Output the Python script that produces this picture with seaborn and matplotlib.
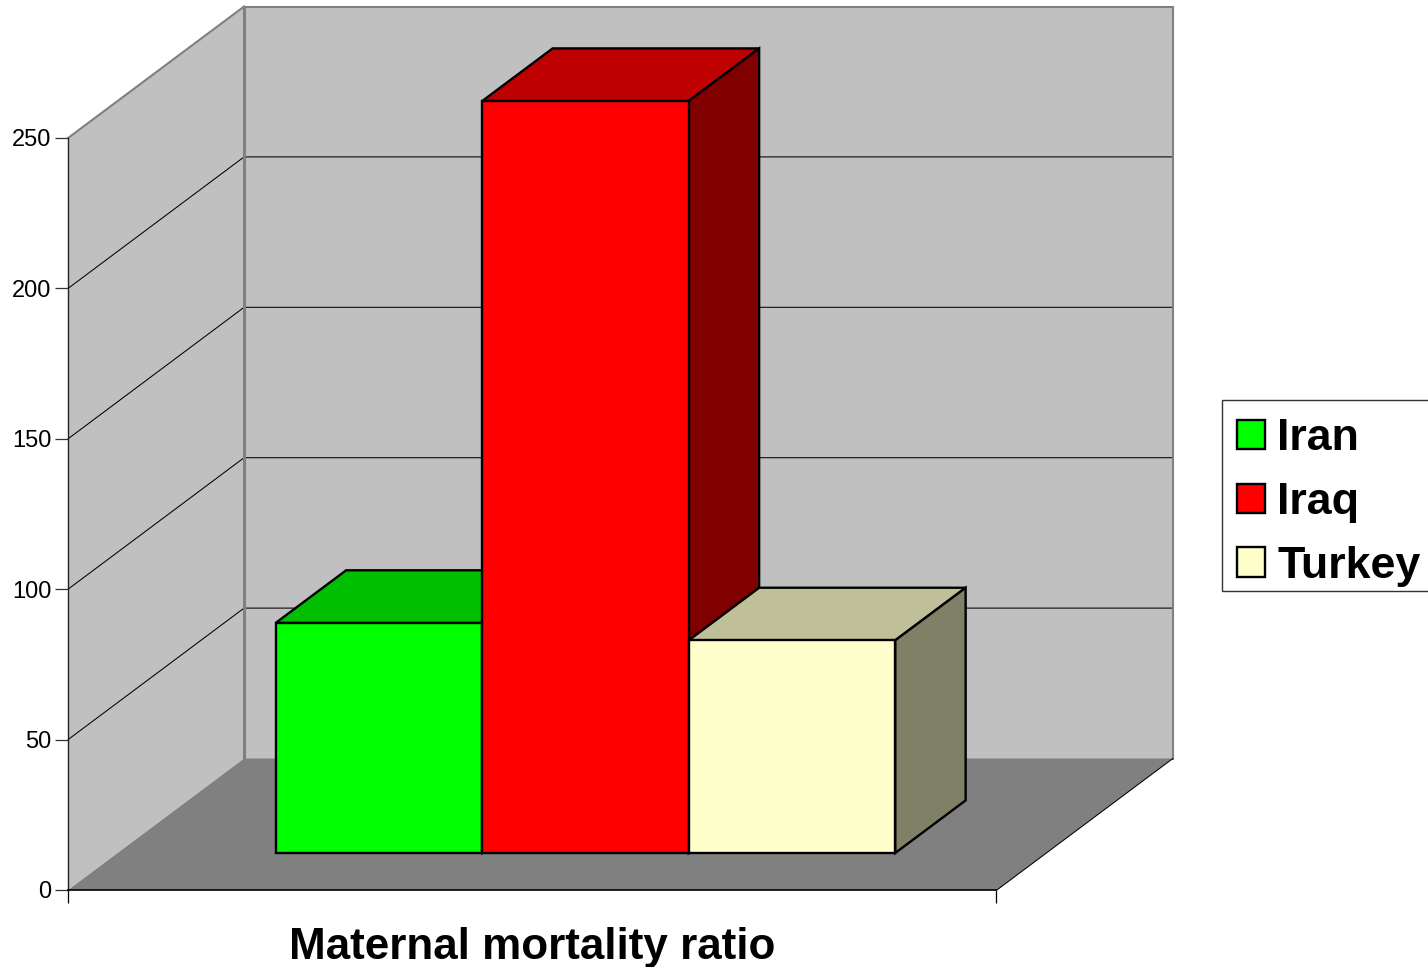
import matplotlib
matplotlib.use("Agg")
import matplotlib.pyplot as plt
from matplotlib.colors import to_rgb
from matplotlib.patches import Polygon, Rectangle
import seaborn as sns

categories = ["Iran", "Iraq", "Turkey"]
values = [76.5, 250, 70.7]
bar_colors = ["#00FF00", "#FF0000", "#FFFFCC"]
y_ticks = [0, 50, 100, 150, 200, 250]
x_label = "Maternal mortality ratio"

W, H = 1428, 967
sns.set_theme(style="white")
plt.rcParams["font.family"] = ["Liberation Sans", "DejaVu Sans"]

fig = plt.figure(figsize=(W / 100, H / 100), dpi=100, facecolor="white")
ax = fig.add_axes([0, 0, 1, 1])

sns.barplot(x=categories, y=values, hue=categories, palette=bar_colors, dodge=False,
            width=1.0, saturation=1, edgecolor="black", linewidth=1.7, legend=False, ax=ax)
bars = list(ax.patches)

# full-figure axes: one category = 206.5 px, one value unit = 3.008 px, baseline at pixel 853
PX_X, PX_Y = 206.5, 3.008
ax.set_xlim(-379 / PX_X, (W - 379) / PX_X)
ax.set_ylim(-(H - 853) / PX_Y, 853 / PX_Y)
ax.set_axis_off()

# oblique projection; d = 0 front of floor, d = 1 back wall
DX, DY = 176 / PX_X, 131.5 / PX_Y
D0 = 37 / 131.5
BAR_DEPTH = 0.4
XL, XR = (117.6 - 379) / PX_X, (1046.4 - 379) / PX_X
TOP = y_ticks[-1]


def proj(x, v, d):
    return x + (d - D0) * DX, v + (d - D0) * DY


def face(points, fc, ec, lw, z):
    ax.add_patch(Polygon(points, closed=True, facecolor=fc, edgecolor=ec, linewidth=lw, zorder=z))


WALL, FLOOR, EDGE = "#C0C0C0", "#808080", "#808080"
face([proj(XL, 0, 1), proj(XR, 0, 1), proj(XR, TOP, 1), proj(XL, TOP, 1)], WALL, "none", 0, 0.2)
face([proj(XL, 0, 0), proj(XL, 0, 1), proj(XL, TOP, 1), proj(XL, TOP, 0)], WALL, "none", 0, 0.2)
face([proj(XL, 0, 0), proj(XR, 0, 0), proj(XR, 0, 1), proj(XL, 0, 1)], FLOOR, "none", 0, 0.3)

for v in y_ticks[1:-1]:
    p0, p1, p2 = proj(XL, v, 0), proj(XL, v, 1), proj(XR, v, 1)
    ax.plot([p0[0], p1[0], p2[0]], [p0[1], p1[1], p2[1]], color="black", lw=0.75, zorder=0.5)

for (a, b, lw) in [((XL, TOP, 0), (XL, TOP, 1), 1.5), ((XL, TOP, 1), (XR, TOP, 1), 1.5),
                   ((XL, TOP, 1), (XL, 0, 1), 2.2), ((XR, TOP, 1), (XR, 0, 1), 1.5)]:
    pa, pb = proj(*a), proj(*b)
    ax.plot([pa[0], pb[0]], [pa[1], pb[1]], color=EDGE, lw=lw, zorder=0.6, solid_capstyle="projecting")
pa, pb = proj(XR, 0, 0), proj(XR, 0, 1)
ax.plot([pa[0], pb[0]], [pa[1], pb[1]], color="black", lw=0.75, zorder=0.6)

# 3D faces of the bars, derived from the bars seaborn drew
for i, bar in enumerate(bars):
    x0, x1, v = bar.get_x(), bar.get_x() + bar.get_width(), bar.get_height()
    z = [2, 3, 4][i]
    bar.set_zorder(z + 0.2)
    rgb = to_rgb(bar.get_facecolor()[:3])
    top_col = tuple(c * 0.75 for c in rgb)
    side_col = tuple(c * 0.5 for c in rgb)
    d1 = D0 + BAR_DEPTH
    face([proj(x0, v, D0), proj(x1, v, D0), proj(x1, v, d1), proj(x0, v, d1)], top_col, "black", 1.7, z)
    face([proj(x1, 0, D0), proj(x1, 0, d1), proj(x1, v, d1), proj(x1, v, D0)], side_col, "black", 1.7, z)

# legend: box drawn apart so its height can match, running off the right edge of the figure
ax.add_patch(Rectangle((1222 / W, 1 - 591 / H), 230 / W, 191 / H, transform=fig.transFigure,
                       facecolor="white", edgecolor="#333333", linewidth=1.0, zorder=9))
leg = ax.legend(bars, categories, loc="upper left", bbox_to_anchor=(1220.5 / W, 1 - 402 / H),
                bbox_transform=fig.transFigure, prop={"family": "Liberation Sans", "weight": "bold", "size": 32.2},
                frameon=False, borderaxespad=0,
                handlelength=0.63, handleheight=0.63, handletextpad=0.28, labelspacing=0.51, borderpad=0.36,
                labelcolor="black")
leg.set_zorder(10)

# value axis and category axis
axis = fig.add_axes([68 / W, (H - 890) / H, 928 / W, 752 / H], facecolor="none")
axis.set_xlim(0, 1)
axis.set_ylim(0, TOP)
axis.set_yticks(y_ticks)
axis.set_xticks([0, 1])
axis.set_xticklabels([])
axis.tick_params(axis="y", length=9.4, width=0.9, color="#333333", pad=2.4, labelsize=17, labelcolor="black", left=True)
axis.tick_params(axis="x", length=9.4, width=0.9, color="black", bottom=True)
for s in ["top", "right"]:
    axis.spines[s].set_visible(False)
axis.spines["left"].set_color("#222222")
axis.spines["left"].set_linewidth(1.0)
axis.spines["bottom"].set_color("black")
axis.spines["bottom"].set_linewidth(1.2)
axis.set_xlabel(x_label, fontsize=31.7, fontweight="bold", color="black", labelpad=14)

fig.savefig("out.png", dpi=100)
